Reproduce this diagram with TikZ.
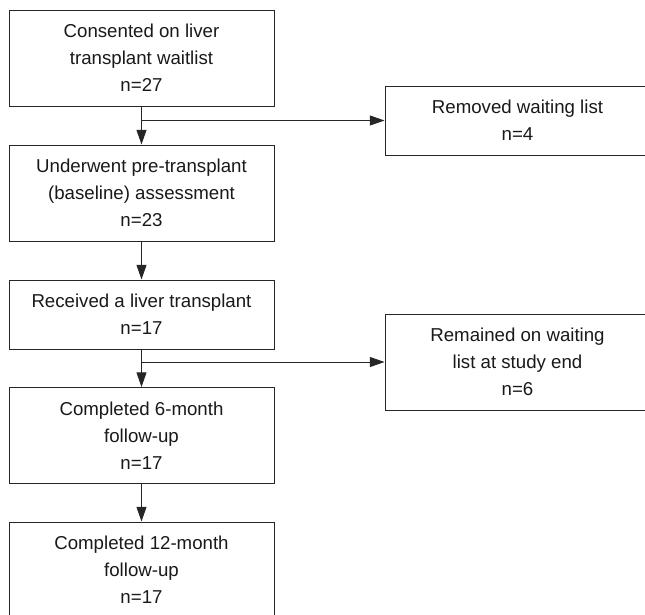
\documentclass[tikz,border=0pt]{standalone}
\usepackage{fontspec}
\setmainfont{Liberation Sans}
\usetikzlibrary{arrows.meta}

\begin{document}
\begin{tikzpicture}[x=0.75pt,y=-0.75pt,
	box/.style={draw=black!85,line width=0.75pt,align=center,inner sep=0pt,
	minimum width=198.75pt,minimum height=72pt,
	font=\fontsize{14}{20.25}\selectfont,text=black!90},
	flow/.style={draw=black!85,line width=0.75pt,-{Triangle[length=11pt,width=7.5pt]}}]
\useasboundingbox (0,0) rectangle (645,614);
\clip (0,0) rectangle (645,614);
% main column
\node[box] (consented) at (141.5,58) {Consented on liver\\transplant waitlist\\n=27};
\node[box] (baseline) at (141.5,193) {Underwent pre-transplant\\(baseline) assessment\\n=23};
\node[box, minimum height=51.75pt] (transplant) at (141.5,314.5) {Received a liver transplant\\n=17};
\node[box] (sixmonth) at (141.5,435.5) {Completed 6-month\\follow-up\\n=17};
\node[box] (twelvemonth) at (141.5,570) {Completed 12-month\\follow-up\\n=17};
% side boxes
\node[box, minimum height=51.75pt] (removed) at (517.5,120.5) {Removed waiting list\\n=4};
\node[box] (remained) at (517.5,362) {Remained on waiting\\list at study end\\n=6};
% arrows
\draw[flow] (consented) -- (baseline);
\draw[flow] (consented.south |- removed.west) -- (removed.west);
\draw[flow] (baseline) -- (transplant);
\draw[flow] (transplant) -- (sixmonth);
\draw[flow] (transplant.south |- remained.west) -- (remained.west);
\draw[flow] (sixmonth) -- (twelvemonth);
\end{tikzpicture}
\end{document}
